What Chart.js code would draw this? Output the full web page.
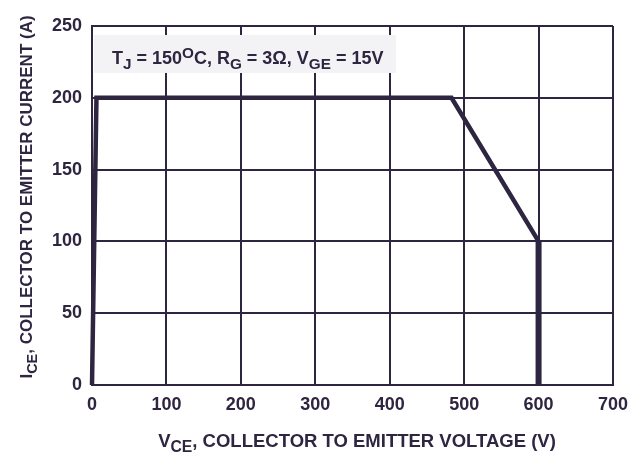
<!DOCTYPE html>
<html>
<head>
<meta charset="utf-8">
<script src="https://cdn.jsdelivr.net/npm/chart.js@4/dist/chart.umd.min.js"></script>
<style>
  html, body { margin: 0; padding: 0; background: #fff; }
  #wrap { width: 644px; height: 456px; }
</style>
</head>
<body>
<div id="wrap"><canvas id="c"></canvas></div>
<script>
// SOA curve
const vce = [0, 6, 483, 600, 600];
const ice = [0, 200, 200, 100, 0];
const xTicks = [0, 100, 200, 300, 400, 500, 600, 700];
const yTicks = [0, 50, 100, 150, 200, 250];

const INK = '#2e2540';
const FONT = '"Liberation Sans", Arial, sans-serif';

// draw text pieces with sub/superscripts, returns width
function richText(ctx, parts, x, y, size, measureOnly) {
    let w = 0;
    parts.forEach(p => {
        const s = p.sub || p.sup ? size * 0.85 : size;
        ctx.font = 'bold ' + s + 'px ' + FONT;
        const dy = p.sub ? size * 0.28 : (p.sup ? -size * 0.36 : 0);
        if (!measureOnly) ctx.fillText(p.t, x + w, y + dy);
        w += ctx.measureText(p.t).width;
    });
    return w;
}

const labelsPlugin = {
    id: 'labels',
    beforeDatasetsDraw(chart) {
        const ctx = chart.ctx;
        ctx.save();
        // note box
        ctx.fillStyle = '#f3f3f5';
        ctx.fillRect(94, 35, 302, 38);
        ctx.restore();
    },
    afterDraw(chart) {
        const ctx = chart.ctx;
        const a = chart.chartArea;
        ctx.save();
        ctx.fillStyle = INK;
        ctx.textBaseline = 'alphabetic';
        ctx.textAlign = 'left';

        const note = [
            { t: 'T' }, { t: 'J', sub: true }, { t: ' = 150' }, { t: 'O', sup: true },
            { t: 'C, R' }, { t: 'G', sub: true }, { t: ' = 3\u03A9, V' }, { t: 'GE', sub: true }, { t: ' = 15V' }
        ];
        richText(ctx, note, 112, 64, 18);

        const xt = [{ t: 'V' }, { t: 'CE', sub: true }, { t: ', COLLECTOR TO EMITTER VOLTAGE (V)' }];
        const xw = richText(ctx, xt, 0, 0, 18.5, true);
        richText(ctx, xt, 357 - xw / 2, 447, 18.5);

        const yt = [{ t: 'I' }, { t: 'CE', sub: true }, { t: ', COLLECTOR TO EMITTER CURRENT (A)' }];
        const yw = richText(ctx, yt, 0, 0, 17, true);
        ctx.translate(32, 197 + yw / 2);
        ctx.rotate(-Math.PI / 2);
        richText(ctx, yt, 0, 0, 17);
        ctx.restore();
    }
};

new Chart(document.getElementById('c'), {
    type: 'scatter',
    data: {
        datasets: [{
            data: vce.map((v, i) => ({ x: v, y: ice[i] })),
            showLine: true,
            borderColor: INK,
            borderWidth: 4.5,
            // vertical drops are drawn heavier in the original
            segment: { borderWidth: c => (c.p0.parsed.x === c.p1.parsed.x ? 6 : 4.5) },
            pointRadius: 0,
            tension: 0,
            clip: false
        }]
    },
    options: {
        responsive: true,
        maintainAspectRatio: false,
        animation: false,
        devicePixelRatio: 1,
        layout: { padding: { top: 26, right: 31, left: 0, bottom: 0 } },
        plugins: { legend: { display: false }, tooltip: { enabled: false } },
        scales: {
            x: {
                type: 'linear', min: 0, max: 700,
                afterBuildTicks: s => { s.ticks = xTicks.map(v => ({ value: v })); },
                afterFit: s => { s.height = 71; },
                grid: { color: INK, lineWidth: 2, drawTicks: false },
                border: { color: INK, width: 2 },
                ticks: { color: INK, padding: 9, maxRotation: 0, font: { family: FONT, size: 18, weight: 'bold' } }
            },
            y: {
                min: 0, max: 250,
                afterBuildTicks: s => { s.ticks = yTicks.map(v => ({ value: v })); },
                afterFit: s => { s.width = 92; },
                grid: { color: INK, lineWidth: 2, drawTicks: false },
                border: { color: INK, width: 2 },
                ticks: { color: INK, padding: 10, font: { family: FONT, size: 18, weight: 'bold' } }
            }
        }
    },
    plugins: [labelsPlugin]
});
</script>
</body>
</html>
